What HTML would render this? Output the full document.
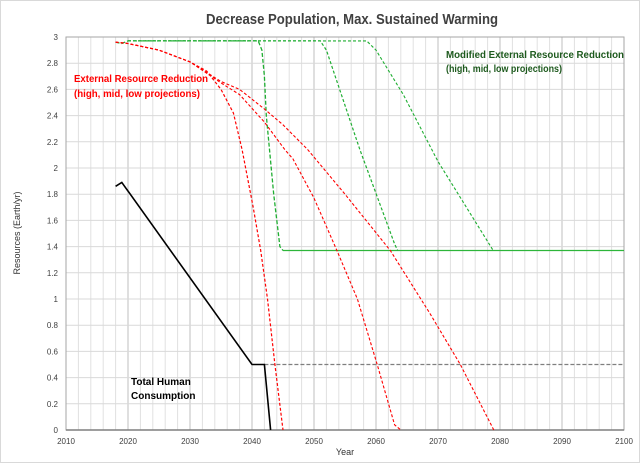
<!DOCTYPE html>
<html><head><meta charset="utf-8"><style>
body{margin:0;background:#fff;}
svg{display:block;font-family:"Liberation Sans",sans-serif;}
</style></head><body>
<svg id="chart" width="640" height="463" viewBox="0 0 640 463" xmlns="http://www.w3.org/2000/svg">
<rect x="0.5" y="0.5" width="639" height="462" fill="#fff" stroke="#d9d9d9"/>
<text x="352" y="24" text-anchor="middle" font-size="15" font-weight="bold" fill="#404040" textLength="292" lengthAdjust="spacingAndGlyphs">Decrease Population, Max. Sustained Warming</text>
<g id="grid"></g>
<g id="axes"></g>
<g id="series"></g>
<text transform="translate(20,233) rotate(-90)" text-anchor="middle" font-size="9" fill="#333">Resources (Earth/yr)</text>
<text x="345" y="455" text-anchor="middle" font-size="9" fill="#333">Year</text>
<text x="74" y="82" font-size="10" font-weight="bold" fill="#ff0000" textLength="134" lengthAdjust="spacingAndGlyphs">External Resource Reduction</text>
<text x="74" y="97" font-size="10" font-weight="bold" fill="#ff0000" textLength="126" lengthAdjust="spacingAndGlyphs">(high, mid, low projections)</text>
<text x="446" y="58" font-size="10" font-weight="bold" fill="#1e5a1e" textLength="178" lengthAdjust="spacingAndGlyphs">Modified External Resource Reduction</text>
<text x="446" y="72" font-size="10" font-weight="bold" fill="#1e5a1e" textLength="116" lengthAdjust="spacingAndGlyphs">(high, mid, low projections)</text>
<text x="131" y="385" font-size="10" font-weight="bold" fill="#000">Total Human</text>
<text x="131" y="399" font-size="10" font-weight="bold" fill="#000">Consumption</text>
</svg>
<script>
const xTicks=[2010,2020,2030,2040,2050,2060,2070,2080,2090,2100];
const yTicks=[0,0.2,0.4,0.6,0.8,1,1.2,1.4,1.6,1.8,2,2.2,2.4,2.6,2.8,3];
const redHighYears=[2018,2020,2025,2030,2032.7,2035,2037,2038.4,2040.2,2041.4,2042.5,2043.7,2045];
const redHighVals=[2.96,2.95,2.9,2.81,2.74,2.6,2.42,2.14,1.7,1.37,1.0,0.5,0];
const redMidYears=[2018,2020,2025,2030,2035,2038,2042,2045.3,2046.6,2050,2053.7,2057,2060.2,2063,2064];
const redMidVals=[2.96,2.95,2.9,2.81,2.65,2.56,2.35,2.14,2.07,1.77,1.37,1.0,0.5,0.04,0];
const redLowYears=[2018,2020,2025,2030,2035,2038,2042,2045,2049,2055,2062.3,2068.7,2073.6,2079];
const redLowVals=[2.96,2.95,2.9,2.81,2.66,2.6,2.45,2.33,2.14,1.8,1.37,0.89,0.5,0];
const greenHighYears=[2018,2019,2020,2041,2041.6,2042,2042.3,2043.5,2044.5,2045];
const greenHighVals=[2.96,2.95,2.97,2.97,2.9,2.7,2.4,1.8,1.4,1.37];
const greenMidYears=[2020,2051,2052,2057.4,2063,2063.5];
const greenMidVals=[2.97,2.97,2.9,2.14,1.42,1.37];
const greenLowYears=[2020,2058.5,2060,2064.4,2070,2078.9];
const greenLowVals=[2.97,2.97,2.9,2.56,2.05,1.37];
const floorYears=[2045,2100];
const floorVals=[1.37,1.37];
const consYears=[2018,2019,2040,2042,2043];
const consVals=[1.86,1.89,0.5,0.5,0];
const projYears=[2042,2100];
const projVals=[0.5,0.5];

const X0=66,X1=624,Y0=430,Y1=37;
const sx=v=>X0+(v-2010)/90*(X1-X0);
const sy=v=>Y0-(v/3)*(Y0-Y1);
const NS="http://www.w3.org/2000/svg";
function mk(tag,attrs,parent){const e=document.createElementNS(NS,tag);for(const k in attrs)e.setAttribute(k,attrs[k]);parent.appendChild(e);return e;}
const grid=document.getElementById('grid'),axes=document.getElementById('axes'),ser=document.getElementById('series');
for(let yr=2012;yr<2100;yr+=2){
  const major=(yr%10===0);
  const l=mk('line',{x1:sx(yr),x2:sx(yr),y1:Y1,y2:Y0,stroke:major?'#bfbfbf':'#e0e0e0','stroke-width':1},grid);
  
  
}
yTicks.forEach(v=>{
  if(v===0)return;
  const l=mk('line',{x1:X0,x2:X1,y1:sy(v),y2:sy(v),stroke:'#d9d9d9','stroke-width':1},grid);
  
  
});
const frame=mk('rect',{x:X0,y:Y1,width:X1-X0,height:Y0-Y1,fill:'none',stroke:'#a6a6a6','stroke-width':1},axes);


const xa=mk('line',{x1:X0,x2:X1,y1:Y0,y2:Y0,stroke:'#7f7f7f','stroke-width':1.5},axes);


xTicks.forEach(v=>{
  const t=mk('text',{x:sx(v),y:Y0+14,'text-anchor':'middle','font-size':8,fill:'#404040'},axes);
  t.textContent=v;
  
  
});
yTicks.forEach(v=>{
  const t=mk('text',{x:X0-8,y:sy(v)+3,'text-anchor':'end','font-size':8,fill:'#404040'},axes);
  t.textContent=String(Math.round(v*10)/10);
  
  
});
function line(xs,ys,color,dash,w,name){
  const d=xs.map((x,i)=>(i?'L':'M')+sx(x).toFixed(1)+','+sy(ys[i]).toFixed(1)).join(' ');
  const p=mk('path',{d:d,fill:'none',stroke:color,'stroke-width':w,'stroke-dasharray':dash},ser);
  
  
}
line(projYears,projVals,'#7f7f7f','4,2',1.3,'consumption-projection-line');
line(floorYears,floorVals,'#2db53a','',1.3,'green-floor-line');
line(greenLowYears,greenLowVals,'#1fae32','3,2',1.1,'green-low-line');
line(greenMidYears,greenMidVals,'#1fae32','3,2',1.2,'green-mid-line');
line(greenHighYears,greenHighVals,'#1fae32','4,2',1.3,'green-high-line');
line(redHighYears,redHighVals,'#ff0000','3,2',1.2,'red-high-line');
line(redMidYears,redMidVals,'#ff0000','3,2',1.1,'red-mid-line');
line(redLowYears,redLowVals,'#ff0000','3,2',1.1,'red-low-line');
line(consYears,consVals,'#000','',1.6,'consumption-line');
</script>
</body></html>
